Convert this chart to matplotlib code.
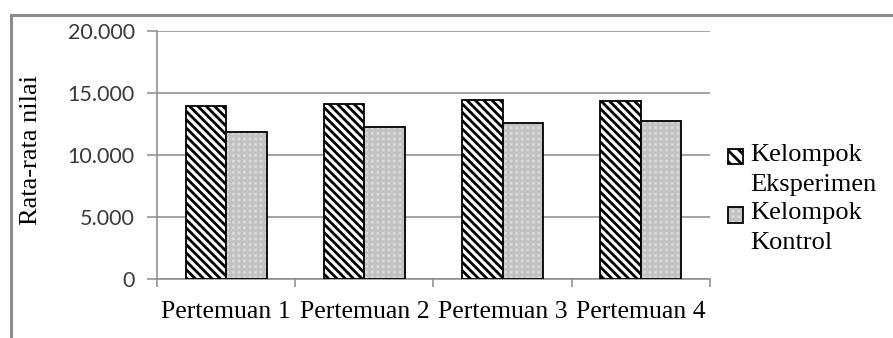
import matplotlib
matplotlib.use("Agg")
import matplotlib.pyplot as plt
from matplotlib.patches import Patch, Rectangle
from matplotlib.legend_handler import HandlerTuple, HandlerPatch
from matplotlib.font_manager import FontProperties
from matplotlib.ticker import FuncFormatter
import numpy as np

# data
categories = ["Pertemuan 1", "Pertemuan 2", "Pertemuan 3", "Pertemuan 4"]
eksperimen = [13960, 14100, 14440, 14330]
kontrol = [11860, 12230, 12600, 12720]
series_labels = ["Kelompok\nEksperimen", "Kelompok\nKontrol"]
y_ticks = [0, 5000, 10000, 15000, 20000]

plt.rcParams["hatch.linewidth"] = 2.0
serif = "Liberation Serif"
grey = "#8a8a8a"
ctl_face = "#dadada"
ctl_hatch = "#c2c2c2"

fig = plt.figure(figsize=(8.93, 3.38), dpi=100)
ax = fig.add_axes([157 / 893, 59 / 338, 553 / 893, 248 / 338])

x = np.arange(len(categories)) + 0.5
w = 0.293

# experiment bars: black diagonal hatch
ax.bar(x - w / 2, eksperimen, w, facecolor="white", edgecolor="black",
       hatch="\\\\\\\\", linewidth=1.3, zorder=3)
# control bars: fine grey texture, then a black outline on top
ax.bar(x + w / 2, kontrol, w, facecolor=ctl_face, edgecolor=ctl_hatch,
       hatch="+++", linewidth=0, zorder=3)
ax.bar(x + w / 2, kontrol, w, fill=False, edgecolor="black", linewidth=1.3, zorder=4)

ax.set_xlim(0, 4)
ax.set_ylim(0, 20000)
ax.set_yticks(y_ticks)
ax.yaxis.set_major_formatter(FuncFormatter(lambda v, p: f"{int(v):,}".replace(",", ".")))
ax.yaxis.grid(True, color=grey, linewidth=1.1, zorder=0)
ax.set_axisbelow(True)

ax.set_xticks(x)
ax.set_xticklabels(categories, fontfamily=serif, fontsize=18.5)
ax.set_xticks(np.arange(5), minor=True)
ax.tick_params(axis="x", which="major", length=0, pad=16)
ax.tick_params(axis="x", which="minor", length=6, color=grey, width=1.1)
ax.tick_params(axis="y", length=7, color=grey, width=1.1, pad=9,
               labelsize=15.5, labelcolor="#3a3a3a")
for lab in ax.get_yticklabels():
    lab.set_fontfamily("Lato")

for side in ["top", "right"]:
    ax.spines[side].set_visible(False)
for side in ["left", "bottom"]:
    ax.spines[side].set_color(grey)
    ax.spines[side].set_linewidth(1.1)

fig.text(31 / 893, 1 - 150 / 338, "Rata-rata nilai", rotation=90,
         ha="center", va="center", fontfamily=serif, fontsize=19)


# legend squares sit level with the first line of each two-line label
def top_square(legend, orig_handle, xdescent, ydescent, width, height, fontsize):
    return Rectangle((-xdescent, -ydescent + 9), width, height)


h1 = Patch(facecolor="white", edgecolor="black", hatch="\\\\\\", linewidth=1.3)
h2 = (Patch(facecolor=ctl_face, edgecolor=ctl_hatch, hatch="+++", linewidth=0),
      Patch(fill=False, edgecolor="black", linewidth=1.3))
leg = fig.legend([h1, h2], series_labels, loc="upper left",
                 bbox_to_anchor=(728 / 893, 1 - 144 / 338),
                 frameon=False, borderpad=0, borderaxespad=0,
                 handlelength=0.57, handleheight=0.53, handletextpad=0.27,
                 labelspacing=0.25, prop=FontProperties(family=serif, size=19),
                 handler_map={tuple: HandlerTuple(ndivide=1),
                              Patch: HandlerPatch(patch_func=top_square)})
for t in leg.get_texts():
    t.set_linespacing(1.45)

# chart-area border (only the top and left edges fall inside the picture)
fig.add_artist(Rectangle((11 / 893, -0.5), 2, 0.5 + 1 - 15 / 338,
                         transform=fig.transFigure, fill=False,
                         edgecolor="#8c8c8c", linewidth=2.2))

fig.savefig("out.png", dpi=100)
